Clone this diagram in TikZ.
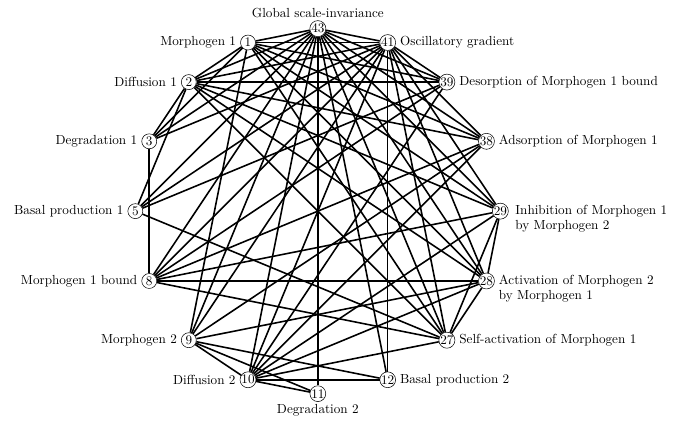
\documentclass[tikz,border=0pt]{standalone}
\usetikzlibrary{positioning}
\tikzset{
  pt/.style={draw, circle, fill=white, minimum size=4mm, inner sep=0pt},
  edge/.style={line width=1.2pt},
  lbl/.style={inner sep=2pt, align=left},
}
\begin{document}
\begin{tikzpicture}
  \useasboundingbox (-8.49,-5.74) rectangle (9.78,5.64);
  % processes on a circle
  \node[pt] (glob) at (90:4.875) {43};
  \node[pt] (osc)  at (67.5:4.875) {41};
  \node[pt] (desA) at (45:4.875) {39};
  \node[pt] (adsA) at (22.5:4.875) {38};
  \node[pt] (inhA) at (0:4.875) {29};
  \node[pt] (actB) at (-22.5:4.875) {28};
  \node[pt] (selfA) at (-45:4.875) {27};
  \node[pt] (basB) at (-67.5:4.875) {12};
  \node[pt] (degB) at (-90:4.875) {11};
  \node[pt] (difB) at (-112.5:4.875) {10};
  \node[pt] (morB) at (-135:4.875) {9};
  \node[pt] (bndA) at (-157.5:4.875) {8};
  \node[pt] (basA) at (180:4.875) {5};
  \node[pt] (degA) at (157.5:4.875) {3};
  \node[pt] (difA) at (135:4.875) {2};
  \node[pt] (morA) at (112.5:4.875) {1};
  % labels
  \node[lbl, above=0pt of glob] (tglob) {Global scale-invariance};
  \node[lbl, right=1pt of osc] (tosc) {Oscillatory gradient};
  \node[lbl, right=1pt of desA] (tdesA) {Desorption of Morphogen 1 bound};
  \node[lbl, right=1pt of adsA] (tadsA) {Adsorption of Morphogen 1};
  \node[lbl, anchor=north west] (tinhA) at ([xshift=3pt, yshift=7pt]inhA.east) {Inhibition of Morphogen 1\\by Morphogen 2};
  \node[lbl, anchor=north west] (tactB) at ([xshift=1pt, yshift=7pt]actB.east) {Activation of Morphogen 2\\by Morphogen 1};
  \node[lbl, right=1pt of selfA] (tselfA) {Self-activation of Morphogen 1};
  \node[lbl, right=1pt of basB] (tbasB) {Basal production 2};
  \node[lbl, below=0pt of degB] (tdegB) {Degradation 2};
  \node[lbl, left=1pt of difB] (tdifB) {Diffusion 2};
  \node[lbl, left=1pt of morB] (tmorB) {Morphogen 2};
  \node[lbl, left=1pt of bndA] (tbndA) {Morphogen 1 bound};
  \node[lbl, left=1pt of basA] (tbasA) {Basal production 1};
  \node[lbl, left=1pt of degA] (tdegA) {Degradation 1};
  \node[lbl, left=1pt of difA] (tdifA) {Diffusion 1};
  \node[lbl, left=1pt of morA] (tmorA) {Morphogen 1};
  % couplings
  \draw[edge] (glob) -- (morA); \draw[edge] (glob) -- (osc); \draw[edge] (glob) -- (difA);
  \draw[edge] (glob) -- (desA); \draw[edge] (glob) -- (degA); \draw[edge] (glob) -- (adsA);
  \draw[edge] (glob) -- (basA); \draw[edge] (glob) -- (inhA); \draw[edge] (glob) -- (bndA);
  \draw[edge] (glob) -- (actB); \draw[edge] (glob) -- (morB); \draw[edge] (glob) -- (selfA);
  \draw[edge] (glob) -- (difB); \draw[edge] (glob) -- (basB); \draw[edge] (glob) -- (degB);
  \draw[edge] (osc) -- (morA); \draw[edge] (osc) -- (difA); \draw[edge] (osc) -- (desA);
  \draw[edge] (osc) -- (degA); \draw[edge] (osc) -- (adsA); \draw[edge] (osc) -- (basA);
  \draw[edge] (osc) -- (inhA); \draw[edge] (osc) -- (bndA); \draw[edge] (osc) -- (actB);
  \draw[edge] (osc) -- (morB); \draw[edge] (osc) -- (selfA); \draw[edge] (osc) -- (difB);
  \draw[edge] (osc) -- (basB);
  \draw[edge] (morA) -- (difA); \draw[edge] (morA) -- (degA); \draw[edge] (morA) -- (desA);
  \draw[edge] (morA) -- (adsA); \draw[edge] (morA) -- (inhA); \draw[edge] (morA) -- (actB);
  \draw[edge] (morA) -- (selfA); \draw[edge] (morA) -- (morB);
  \draw[edge] (difA) -- (degA); \draw[edge] (difA) -- (basA);
  \draw[edge] (difA) -- (desA); \draw[edge] (difA) -- (adsA); \draw[edge] (difA) -- (inhA);
  \draw[edge] (difA) -- (actB); \draw[edge] (difA) -- (selfA);
  \draw[edge] (degA) -- (bndA);
  \draw[edge] (basA) -- (desA); \draw[edge] (basA) -- (selfA);
  \draw[edge] (bndA) -- (desA); \draw[edge] (bndA) -- (adsA); \draw[edge] (bndA) -- (inhA);
  \draw[edge] (bndA) -- (actB); \draw[edge] (bndA) -- (selfA);
  \draw[edge] (morB) -- (difB); \draw[edge] (morB) -- (degB); \draw[edge] (morB) -- (basB);
  \draw[edge] (morB) -- (actB); \draw[edge] (morB) -- (adsA);
  \draw[edge] (difB) -- (degB); \draw[edge] (difB) -- (basB); \draw[edge] (difB) -- (desA);
  \draw[edge] (difB) -- (adsA); \draw[edge] (difB) -- (inhA); \draw[edge] (difB) -- (actB);
  \draw[edge] (difB) -- (selfA);
  \draw[edge] (selfA) -- (actB); \draw[edge] (selfA) -- (inhA); \draw[edge] (actB) -- (inhA);
\end{tikzpicture}
\end{document}
